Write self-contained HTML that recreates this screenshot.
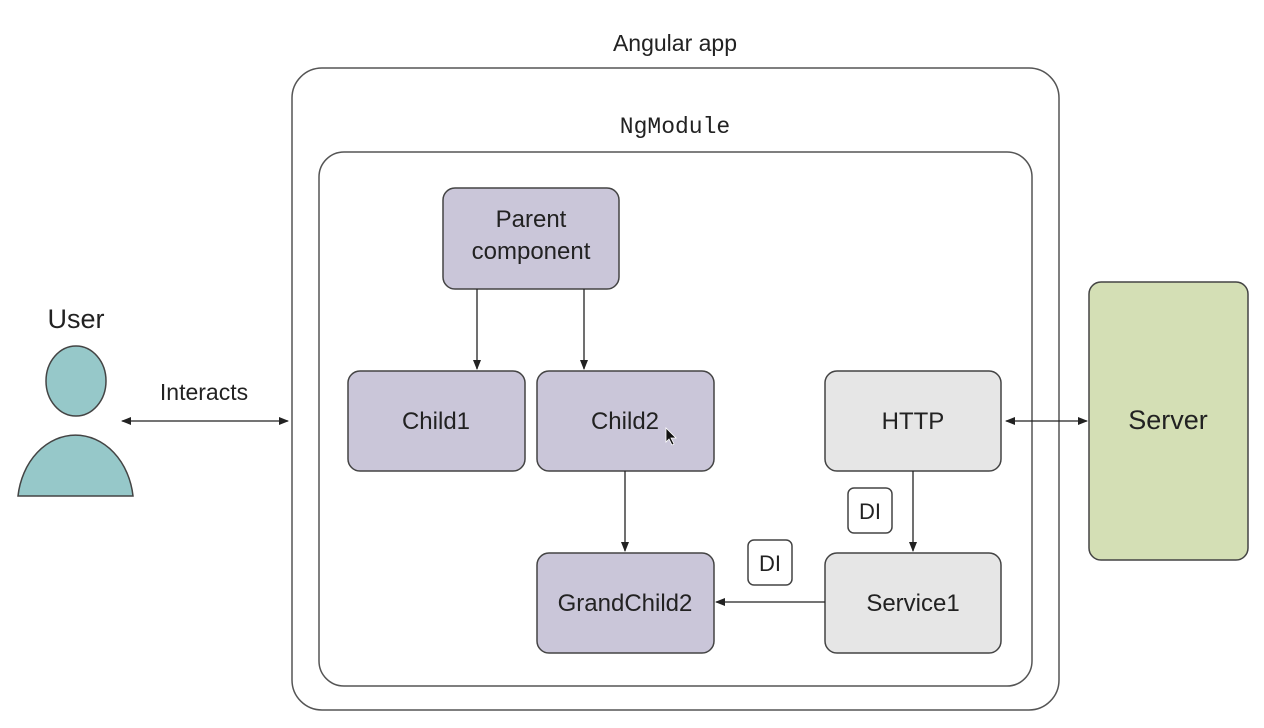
<!DOCTYPE html>
<html><head><style>body{margin:0;background:#fff}svg{display:block}</style></head><body>
<svg width="1264" height="728" viewBox="0 0 1264 728" xmlns="http://www.w3.org/2000/svg" font-family="Liberation Sans, sans-serif">
<defs><marker id="a" markerWidth="10" markerHeight="8" refX="9" refY="4" orient="auto-start-reverse" markerUnits="userSpaceOnUse"><path d="M0,0 L10,4 L0,8 Z" fill="#222"/></marker></defs>
<rect width="1264" height="728" fill="#fff"/>
<text x="675" y="51" font-size="23" text-anchor="middle" fill="#222">Angular app</text>
<rect x="292" y="68" width="767" height="642" rx="30" fill="none" stroke="#555" stroke-width="1.5"/>
<text x="675" y="133" font-size="23" font-family="Liberation Mono, monospace" text-anchor="middle" fill="#222">NgModule</text>
<rect x="319" y="152" width="713" height="534" rx="25" fill="none" stroke="#555" stroke-width="1.5"/>
<g stroke="#444" stroke-width="1.5">
<rect x="443" y="188" width="176" height="101" rx="12" fill="#cac6d9"/>
<rect x="348" y="371" width="177" height="100" rx="12" fill="#cac6d9"/>
<rect x="537" y="371" width="177" height="100" rx="12" fill="#cac6d9"/>
<rect x="537" y="553" width="177" height="100" rx="12" fill="#cac6d9"/>
<rect x="825" y="371" width="176" height="100" rx="12" fill="#e6e6e6"/>
<rect x="825" y="553" width="176" height="100" rx="12" fill="#e6e6e6"/>
<rect x="1089" y="282" width="159" height="278" rx="12" fill="#d4dfb5"/>
<rect x="848" y="488" width="44" height="45" rx="6" fill="#fff"/>
<rect x="748" y="540" width="44" height="45" rx="6" fill="#fff"/>
<ellipse cx="76" cy="381" rx="30" ry="35" fill="#96c8c9"/>
<path d="M18,496 A58,70 0 0 1 133,496 Z" fill="#96c8c9"/>
</g>
<g stroke="#222" stroke-width="1.3" fill="none" marker-end="url(#a)">
<line x1="122" y1="421" x2="288" y2="421" marker-start="url(#a)"/>
<line x1="1006" y1="421" x2="1087" y2="421" marker-start="url(#a)"/>
<line x1="477" y1="289" x2="477" y2="369"/>
<line x1="584" y1="289" x2="584" y2="369"/>
<line x1="625" y1="471" x2="625" y2="551"/>
<line x1="913" y1="471" x2="913" y2="551"/>
<line x1="825" y1="602" x2="716" y2="602"/>
</g>
<g font-size="24" fill="#222" text-anchor="middle">
<text x="76" y="328" font-size="27">User</text>
<text x="204" y="400" font-size="23">Interacts</text>
<text x="531" y="227">Parent</text>
<text x="531" y="259">component</text>
<text x="436" y="429">Child1</text>
<text x="625" y="429">Child2</text>
<text x="625" y="611">GrandChild2</text>
<text x="913" y="429">HTTP</text>
<text x="913" y="611">Service1</text>
<text x="1168" y="429" font-size="27">Server</text>
<text x="870" y="519" font-size="22">DI</text>
<text x="770" y="571" font-size="22">DI</text>
</g>
<path d="M666,428 L666,442 L669,439 L672,445 L674,444 L671,438 L676,438 Z" fill="#111" stroke="#fff" stroke-width="0.8"/>
</svg>
</body></html>
